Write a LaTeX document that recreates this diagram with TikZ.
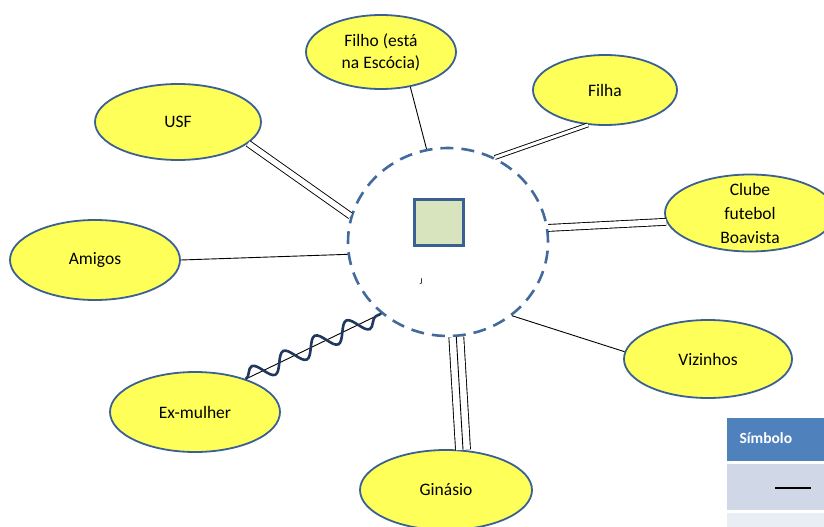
\documentclass[tikz,border=0pt]{standalone}
\usepackage{fontspec}
\setmainfont{Carlito}
\usetikzlibrary{shapes.geometric, decorations.pathmorphing}
\definecolor{bubfill}{RGB}{255,255,90}
\definecolor{bubedge}{RGB}{58,96,148}
\definecolor{ringblue}{RGB}{66,106,156}
\definecolor{sqfill}{RGB}{215,228,189}
\definecolor{hdrblue}{RGB}{79,129,189}
\definecolor{rowa}{RGB}{208,216,232}
\definecolor{rowb}{RGB}{233,237,244}
\definecolor{wavecol}{RGB}{31,56,92}

\begin{document}
\begin{tikzpicture}[x=1pt, y=-1pt, font=\fontsize{17.5}{22}\selectfont,
    bubble/.style={draw=bubedge, line width=1.8pt, ellipse, fill=bubfill, inner sep=0pt, align=center},
    circ/.style={draw=ringblue, line width=2.6pt, dash pattern=on 13pt off 8pt, ellipse, minimum width=200, minimum height=188},
    link/.style={line width=0.9pt},
    dbl/.style={double, line width=0.9pt, double distance=#1},
    wavy/.style={draw=wavecol, line width=2.6pt, decorate, decoration={snake, amplitude=9pt, segment length=35pt}}]
    \useasboundingbox (0,0) rectangle (824,527);
    \node[circ] (rede) at (448,242) {};
    \node[draw=bubedge, line width=2.6pt, fill=sqfill, minimum width=49, minimum height=46] (fam) at (439,222.5) {};
    \node[font=\fontsize{9}{10}\selectfont] (jmark) at (421,282) {J};
    \node[bubble, minimum width=150, minimum height=74] (filho) at (381,52) {Filho (está\\na Escócia)};
    \node[bubble, minimum width=144, minimum height=70] (filha) at (605,90) {Filha};
    \node[bubble, minimum width=166, minimum height=76] (usf) at (178,122) {USF};
    \node[bubble, minimum width=170, minimum height=77, inner ysep=-14pt] (clube) at (750,213) {Clube\\[2pt]futebol\\[2pt]Boavista};
    \node[bubble, minimum width=170, minimum height=80] (amigos) at (95,260) {Amigos};
    \node[bubble, minimum width=168, minimum height=78] (viz) at (708,359) {Vizinhos};
    \node[bubble, minimum width=170, minimum height=80] (exm) at (195,412) {Ex-mulher};
    \node[bubble, minimum width=172, minimum height=80] (gin) at (446,490) {Ginásio};
    \draw[link] (filho.-50) -- (rede.103);
    \draw[dbl=3pt] (filha.244) -- (rede.61);
    \draw[dbl=5.5pt] (usf.-17) -- (rede.165);
    \draw[dbl=6pt] (clube.186) -- (rede.8);
    \draw[link] (amigos.east) -- (rede.187);
    \draw[link] (viz.175) -- (rede.-49);
    \draw[link] (exm.33) -- (rede.227);
    \draw[wavy] (exm.33) -- (rede.227);
    \draw[dbl=14pt] (gin.67) -- (rede.-85);
    \draw[link] (gin.67) -- (rede.-85);
    \fill[hdrblue] (727,418) rectangle (824,461);
    \fill[rowa] (727,464) rectangle (824,510);
    \fill[rowb] (727,513) rectangle (824,527);
    \node[anchor=west, text=white, font=\fontsize{15.5}{18}\selectfont\bfseries] (sym) at (736,438) {Símbolo};
    \draw[line width=1.2pt] (775,488) -- (811,488);
\end{tikzpicture}
\end{document}
